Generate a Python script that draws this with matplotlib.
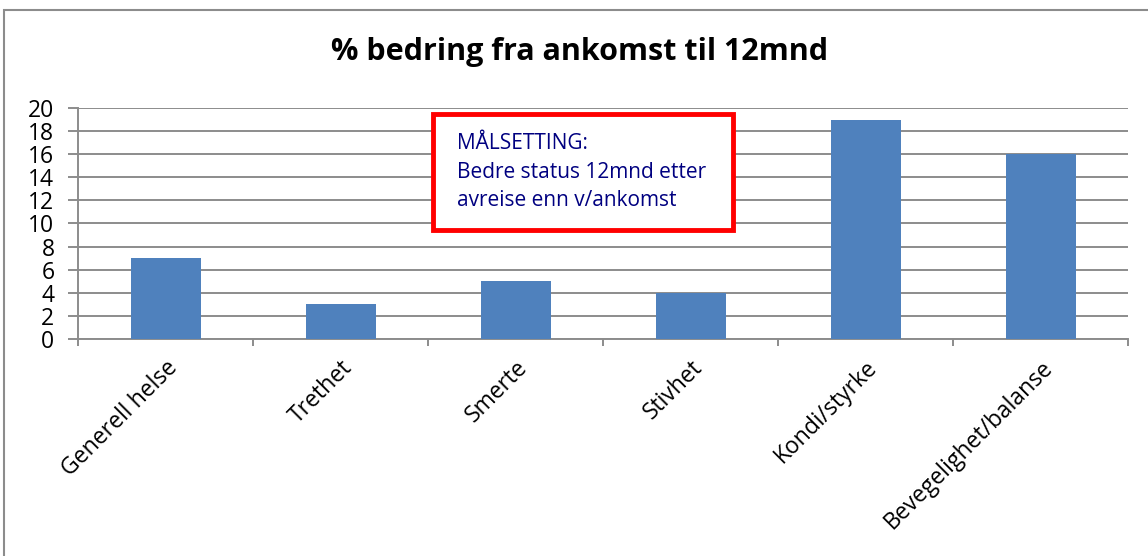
import matplotlib.pyplot as plt
from matplotlib.patches import Rectangle
import numpy as np

categories = ['Generell helse', 'Trethet', 'Smerte', 'Stivhet', 'Kondi/styrke', 'Bevegelighet/balanse']
values = [7, 3, 5, 4, 19, 16]
yticks = [0, 2, 4, 6, 8, 10, 12, 14, 16, 18, 20]

plt.rcParams['font.family'] = ['Open Sans', 'DejaVu Sans']

fig = plt.figure(figsize=(11.48, 5.56), dpi=100)
ax = fig.add_axes([78 / 1148, 1 - 339 / 556, 1050 / 1148, 231 / 556])

x = np.arange(len(categories))
ax.bar(x, values, width=0.4, color='#4f81bd', zorder=3)

ax.set_xlim(-0.5, len(categories) - 0.5)
ax.set_ylim(0, 20)
ax.set_yticks(yticks)
ax.set_yticklabels([str(v) for v in yticks], fontsize=16.5)
ax.yaxis.grid(True, color='#8c8c8c', linewidth=1.4, zorder=0)

ax.set_xticks(x)
ax.set_xticklabels(categories, rotation=45, ha='right', rotation_mode='anchor', fontsize=16.5)
ax.tick_params(axis='x', which='major', length=0, pad=12)
ax.set_xticks(np.arange(-0.5, len(categories)), minor=True)
ax.tick_params(axis='x', which='minor', length=5, color='#8c8c8c', width=1.4)
ax.tick_params(axis='y', length=7, color='#8c8c8c', width=1.4, pad=10)

for side in ['top', 'right']:
    ax.spines[side].set_visible(False)
for side in ['left', 'bottom']:
    ax.spines[side].set_color('#8c8c8c')
    ax.spines[side].set_linewidth(1.4)

fig.text(0.505, 1 - 52 / 556, '% bedring fra ankomst til 12mnd', ha='center', va='center',
         fontsize=22, fontweight='bold')

# outer chart frame
fig.patches.append(Rectangle((4 / 1148, -0.05), 1.1, 1 - 10 / 556 + 0.05,
                             transform=fig.transFigure, fill=False,
                             edgecolor='#8c8c8c', linewidth=1.5))

# goal box
fig.patches.append(Rectangle((433 / 1148, 1 - 230 / 556), 300 / 1148, 116 / 556,
                             transform=fig.transFigure, facecolor='white',
                             edgecolor='#ff0000', linewidth=3.5, zorder=5))
box_lines = ['MÅLSETTING:', 'Bedre status 12mnd etter', 'avreise enn v/ankomst']
for i, line in enumerate(box_lines):
    fig.text(457 / 1148, 1 - (144 + 28 * i) / 556, line, ha='left', va='center',
             fontsize=15, color='#000080', zorder=6)

fig.savefig('out.png', dpi=100)
